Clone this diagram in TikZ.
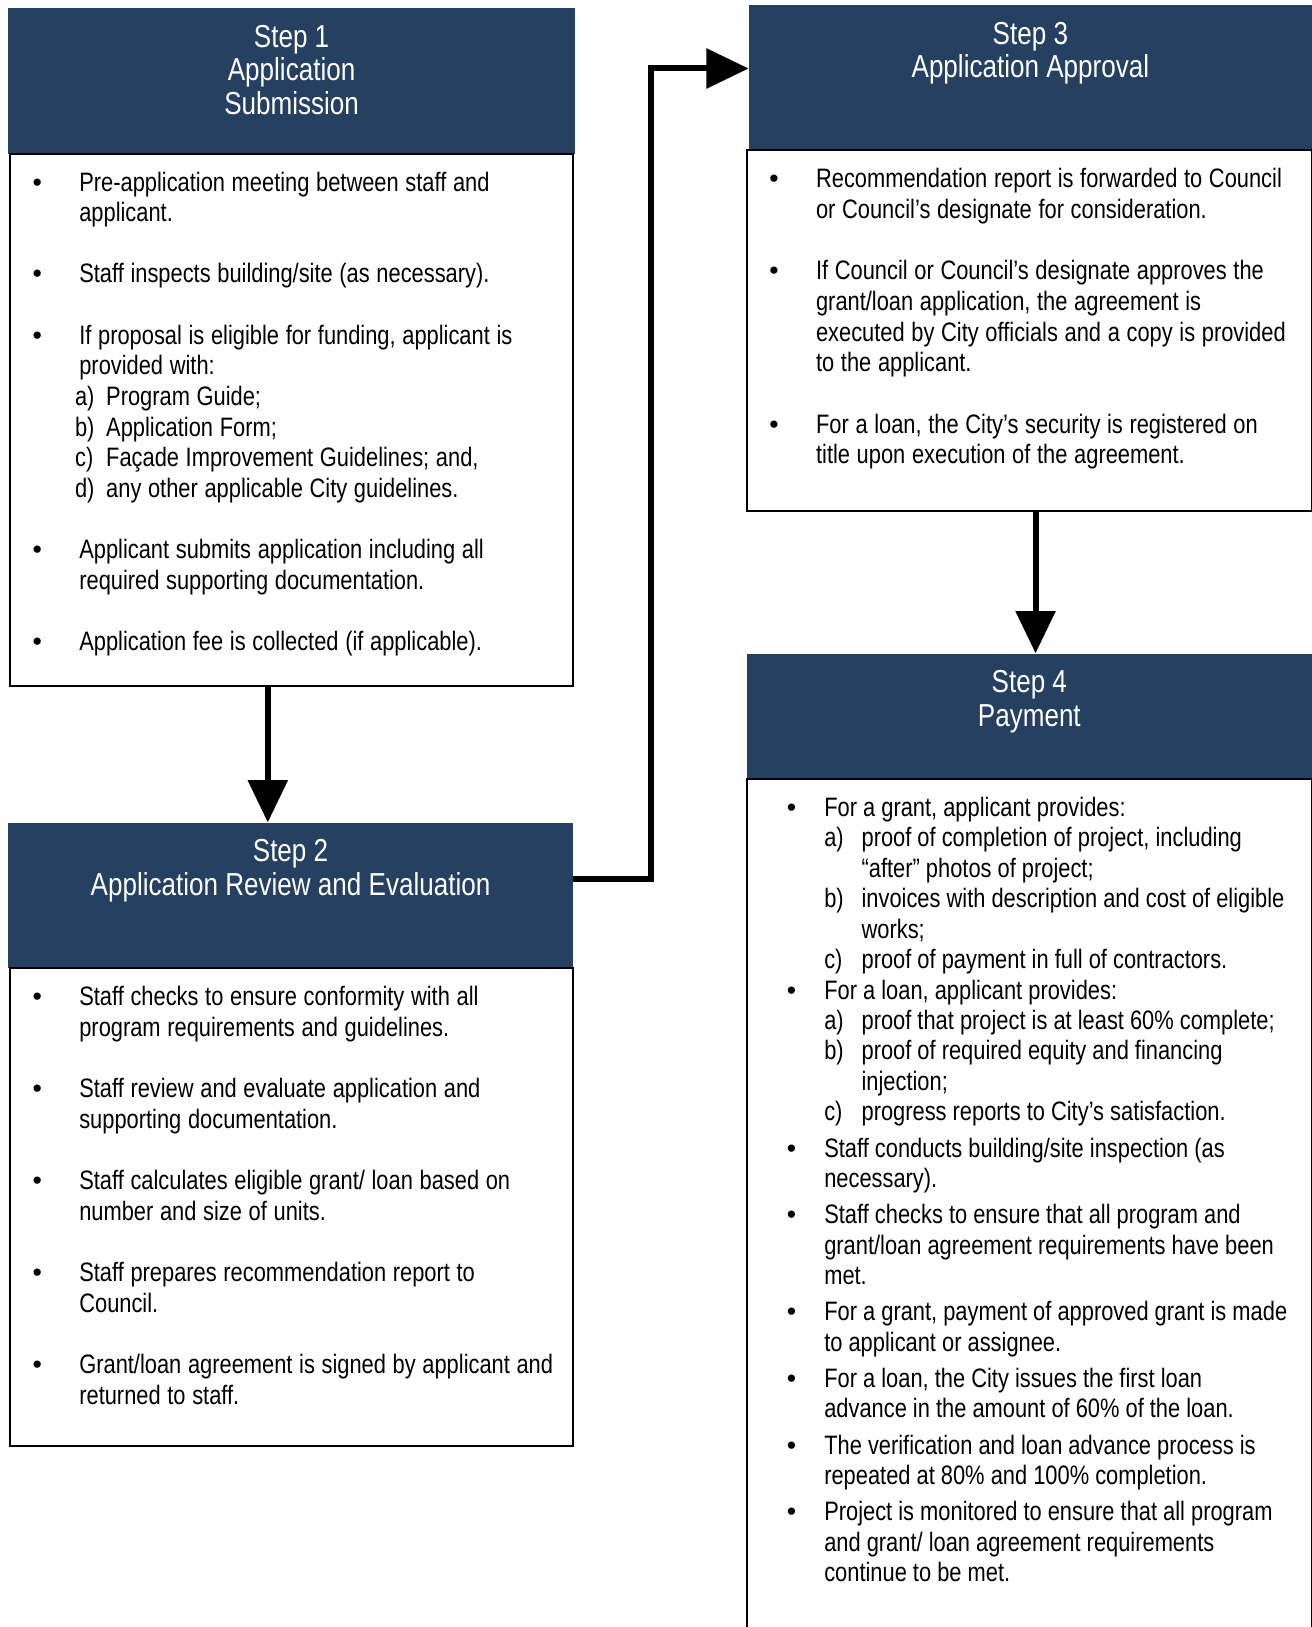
\documentclass[tikz,border=0pt]{standalone}
\usepackage{fontspec}
\setmainfont{Liberation Sans}[FakeStretch=0.82]
\newfontfamily\bulletfont{Liberation Sans}
\usepackage{enumitem}
\usetikzlibrary{arrows.meta,positioning,calc}
\definecolor{navy}{HTML}{254061}
\newcommand{\bodyfont}{\fontsize{12}{13.8}\selectfont\spaceskip=3pt plus 1pt minus 0.3pt\relax}
\newcommand{\titlefont}{\fontsize{14.3}{15}\selectfont}

\newlist{bullets}{itemize}{1}
\setlist[bullets]{label={\bulletfont\textbullet}, align=left, topsep=0pt, partopsep=0pt,
  parsep=0pt, itemsep=13.8pt, leftmargin=21pt, labelwidth=8pt, labelsep=13pt, rightmargin=-40pt}
\newlist{subitems}{enumerate}{1}
\setlist[subitems]{label=\alph*), align=left, topsep=0pt, partopsep=0pt, parsep=0pt,
  itemsep=0pt, leftmargin=12.1pt, labelwidth=9pt, labelsep=5pt}

\begin{document}
\begin{tikzpicture}[
    x=0.4671pt, y=-0.4671pt,
    stephead/.style={fill=navy, draw=none, inner sep=0pt, minimum width=254.1pt, minimum height=65.4pt},
    steptitle/.style={text=white, inner sep=0pt, align=center, font=\titlefont},
    stepbody/.style={draw=black, line width=0.9pt, fill=white, inner sep=0pt, minimum width=253.2pt},
    bodytext/.style={inner sep=0pt, text width=240pt, align=flush left, font=\bodyfont},
    arr/.style={-{Triangle[length=19pt,width=17.5pt]}, line width=2.7pt},
  ]
  \useasboundingbox[fill=white] (0,0) rectangle (1264,1568);

  % step 1
  \node[stephead, minimum width=255pt] (h1) at (281,78) {};
  \node[steptitle, anchor=north] (h1t) at ([yshift=-7.6pt]h1.north) {Step 1\\Application\\Submission};
  \node[stepbody, minimum height=239.6pt] (b1) at (281,404.5) {};
  \node[bodytext, anchor=north west] (t1) at ([xshift=10.3pt,yshift=-3.3pt]b1.north west) {%
    \begin{bullets}
      \item Pre-application meeting between staff and\\applicant.
      \item Staff inspects building/site (as necessary).
      \item If proposal is eligible for funding, applicant is\\provided with:
        \begin{subitems}
          \item Program Guide;
          \item Application Form;
          \item Façade Improvement Guidelines; and,
          \item any other applicable City guidelines.
        \end{subitems}
      \item Applicant submits application including all\\required supporting documentation.
      \item Application fee is collected (if applicable).
    \end{bullets}};

  % step 2
  \node[stephead] (h2) at (280,863) {};
  \node[steptitle, anchor=north] (h2t) at ([yshift=-7.6pt]h2.north) {Step 2\\Application Review and Evaluation};
  \node[stepbody, minimum height=215.3pt] (b2) at (281,1163.5) {};
  \node[bodytext, anchor=north west] (t2) at ([xshift=10.3pt,yshift=-3.3pt]b2.north west) {%
    \begin{bullets}
      \item Staff checks to ensure conformity with all\\program requirements and guidelines.
      \item Staff review and evaluate application and\\supporting documentation.
      \item Staff calculates eligible grant/ loan based on\\number and size of units.
      \item Staff prepares recommendation report to\\Council.
      \item Grant/loan agreement is signed by applicant and\\returned to staff.
    \end{bullets}};

  % step 3
  \node[stephead, minimum width=253.2pt] (h3) at (993,75) {};
  \node[steptitle, anchor=north] (h3t) at ([yshift=-7.6pt]h3.north) {Step 3\\Application Approval};
  \node[stepbody, minimum width=254.1pt, minimum height=162.1pt] (b3) at (992,318.5) {};
  \node[bodytext, anchor=north west] (t3) at ([xshift=10.3pt,yshift=-3.3pt]b3.north west) {%
    \begin{bullets}
      \item Recommendation report is forwarded to Council\\or Council’s designate for consideration.
      \item If Council or Council’s designate approves the\\grant/loan application, the agreement is\\executed by City officials and a copy is provided\\to the applicant.
      \item For a loan, the City’s security is registered on\\title upon execution of the agreement.
    \end{bullets}};

  % step 4
  \node[stephead, minimum height=56.5pt] (h4) at (992,690.5) {};
  \node[steptitle, anchor=north] (h4t) at ([yshift=-7.6pt]h4.north) {Step 4\\Payment};
  \node[stepbody, minimum width=254.1pt, minimum height=384.9pt] (b4) at (992,1163) {};
  \node[bodytext, anchor=north west, font=\fontsize{12}{13.7}\selectfont] (t4) at ([xshift=18.2pt,yshift=-3.3pt]b4.north west) {%
    \begin{bullets}[leftmargin=16.8pt, labelsep=8.8pt, itemsep=2.6pt]
      \item For a grant, applicant provides:
        \begin{subitems}[leftmargin=16.8pt, labelsep=7.8pt]
          \item proof of completion of project, including\\“after” photos of project;
          \item invoices with description and cost of eligible\\works;
          \item proof of payment in full of contractors.
        \end{subitems}\kern-2.6pt
      \item For a loan, applicant provides:
        \begin{subitems}[leftmargin=16.8pt, labelsep=7.8pt]
          \item proof that project is at least 60\% complete;
          \item proof of required equity and financing\\injection;
          \item progress reports to City’s satisfaction.
        \end{subitems}
      \item Staff conducts building/site inspection (as\\necessary).
      \item Staff checks to ensure that all program and\\grant/loan agreement requirements have been\\met.
      \item For a grant, payment of approved grant is made\\to applicant or assignee.
      \item For a loan, the City issues the first loan\\advance in the amount of 60\% of the loan.
      \item The verification and loan advance process is\\repeated at 80\% and 100\% completion.
      \item Project is monitored to ensure that all program\\and grant/ loan agreement requirements\\continue to be met.
    \end{bullets}};

  % connectors
  \draw[arr] ([xshift=-10.7pt]b1.south) -- ([xshift=-10.7pt]b1.south |- h2.north);
  \draw[arr] ([yshift=7.5pt]h2.east) -| ([xshift=-43.9pt,yshift=4.2pt]h3.west) -- ([yshift=4.2pt]h3.west);
  \draw[arr] ([xshift=2.8pt]b3.south) -- ([xshift=2.8pt]b3.south |- h4.north);
\end{tikzpicture}
\end{document}
